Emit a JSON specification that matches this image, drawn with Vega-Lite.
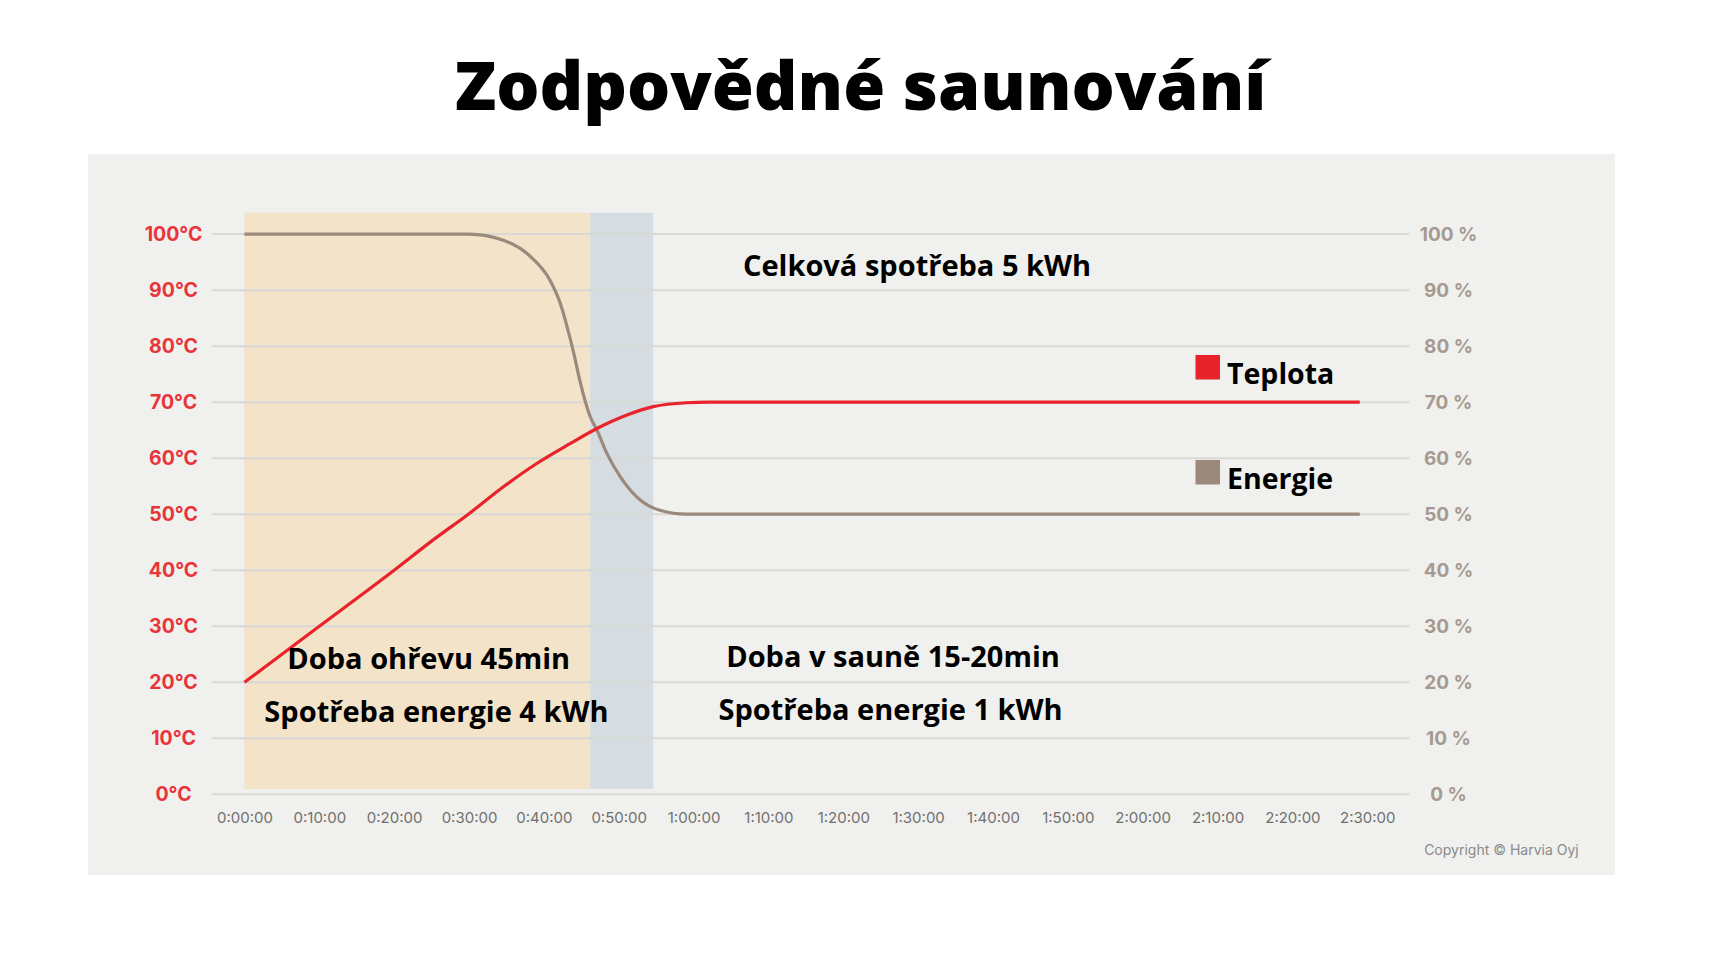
{
  "$schema": "https://vega.github.io/schema/vega-lite/v6.json",
  "autosize": "none",
  "width": 1527,
  "height": 721,
  "padding": {"left": 88, "top": 154, "right": 104, "bottom": 93},
  "background": "white",
  "title": {
    "text": "Zodpovědné saunování",
    "font": "Open Sans",
    "fontSize": 68,
    "fontWeight": 800,
    "color": "black",
    "anchor": "middle",
    "baseline": "alphabetic",
    "offset": 44,
    "dx": 9,
    "dy": 68
  },
  "config": {
    "view": {"fill": "#f0f0ee", "stroke": null},
    "axis": {"grid": false, "domain": false, "ticks": false, "tickSize": 0}
  },
  "resolve": {"scale": {"y": "independent"}},
  "layer": [
    {
      "data": {
        "values": [
          {"faze": "Ohřev", "od": 0, "do": 46.2},
          {"faze": "Saunování", "od": 46.2, "do": 54.6}
        ]
      },
      "mark": {"type": "rect"},
      "encoding": {
        "x": {"field": "od", "type": "quantitative", "title": null, "scale": {"domain": [-20.9, 183.1], "nice": false, "zero": false}},
        "x2": {"field": "do"},
        "y": {"datum": 103.8, "type": "quantitative", "scale": {"domain": [-14.4, 114.3], "nice": false, "zero": false}, "axis": null},
        "y2": {"datum": 0.95},
        "fill": {
          "field": "faze",
          "type": "nominal",
          "scale": {"domain": ["Ohřev", "Saunování"], "range": ["#f3e3c8", "#d5dce2"]},
          "legend": null
        }
      }
    },
    {
      "data": {
        "values": [
          {"uroven": 0}, {"uroven": 10}, {"uroven": 20}, {"uroven": 30}, {"uroven": 40},
          {"uroven": 50}, {"uroven": 60}, {"uroven": 70}, {"uroven": 80}, {"uroven": 90}, {"uroven": 100}
        ]
      },
      "mark": {"type": "rule", "color": "#d8d8d6", "strokeWidth": 2},
      "encoding": {
        "y": {
          "field": "uroven",
          "type": "quantitative",
          "title": null,
          "scale": {"domain": [-14.4, 114.3], "nice": false, "zero": false},
          "axis": {
            "orient": "right",
            "values": [0, 10, 20, 30, 40, 50, 60, 70, 80, 90, 100],
            "labelExpr": "datum.value + ' %'",
            "offset": -167,
            "labelPadding": 0,
            "labelAlign": "center",
            "labelBaseline": "middle",
            "labelFont": "Inter",
            "labelFontSize": 19,
            "labelFontWeight": 700,
            "labelColor": "#a69a90"
          }
        },
        "x": {"datum": -4.3, "type": "quantitative", "title": null},
        "x2": {"datum": 155.6}
      }
    },
    {
      "data": {
        "values": [
          {"serie": "Energie", "cas": 0, "hodnota": 100},
          {"serie": "Energie", "cas": 30, "hodnota": 100},
          {"serie": "Energie", "cas": 34.6, "hodnota": 98.9},
          {"serie": "Energie", "cas": 38.2, "hodnota": 96},
          {"serie": "Energie", "cas": 40.8, "hodnota": 91.8},
          {"serie": "Energie", "cas": 42.2, "hodnota": 87.6},
          {"serie": "Energie", "cas": 43.1, "hodnota": 83.5},
          {"serie": "Energie", "cas": 44, "hodnota": 78.7},
          {"serie": "Energie", "cas": 44.8, "hodnota": 73.9},
          {"serie": "Energie", "cas": 46.2, "hodnota": 67.4},
          {"serie": "Energie", "cas": 47.1, "hodnota": 65},
          {"serie": "Energie", "cas": 48.4, "hodnota": 60.9},
          {"serie": "Energie", "cas": 50.2, "hodnota": 56.7},
          {"serie": "Energie", "cas": 52.4, "hodnota": 53.1},
          {"serie": "Energie", "cas": 55.5, "hodnota": 50.7},
          {"serie": "Energie", "cas": 59.1, "hodnota": 50},
          {"serie": "Energie", "cas": 149, "hodnota": 50},
          {"serie": "Teplota", "cas": 0, "hodnota": 20},
          {"serie": "Teplota", "cas": 10, "hodnota": 30},
          {"serie": "Teplota", "cas": 20, "hodnota": 40},
          {"serie": "Teplota", "cas": 25, "hodnota": 45.2},
          {"serie": "Teplota", "cas": 30, "hodnota": 50.1},
          {"serie": "Teplota", "cas": 34.6, "hodnota": 54.9},
          {"serie": "Teplota", "cas": 39.1, "hodnota": 59.1},
          {"serie": "Teplota", "cas": 43.5, "hodnota": 62.6},
          {"serie": "Teplota", "cas": 47.1, "hodnota": 65.3},
          {"serie": "Teplota", "cas": 51.1, "hodnota": 67.7},
          {"serie": "Teplota", "cas": 54.6, "hodnota": 69.2},
          {"serie": "Teplota", "cas": 59.1, "hodnota": 69.9},
          {"serie": "Teplota", "cas": 62, "hodnota": 70},
          {"serie": "Teplota", "cas": 149, "hodnota": 70}
        ]
      },
      "mark": {"type": "line", "interpolate": "monotone", "strokeWidth": 3.2},
      "encoding": {
        "x": {
          "field": "cas",
          "type": "quantitative",
          "title": null,
          "scale": {"domain": [-20.9, 183.1], "nice": false, "zero": false},
          "axis": {
            "orient": "bottom",
            "values": [0, 10, 20, 30, 40, 50, 60, 70, 80, 90, 100, 110, 120, 130, 140, 150],
            "labelExpr": "floor(datum.value / 60) + ':' + (datum.value % 60 < 10 ? '0' : '') + (datum.value % 60) + ':00'",
            "offset": -58,
            "labelPadding": 0,
            "labelBaseline": "middle",
            "labelFont": "Inter",
            "labelFontSize": 15,
            "labelColor": "#707070",
            "labelFlush": false,
            "labelOverlap": false
          }
        },
        "y": {
          "field": "hodnota",
          "type": "quantitative",
          "title": null,
          "scale": {"domain": [-14.4, 114.3], "nice": false, "zero": false},
          "axis": {
            "orient": "left",
            "values": [0, 10, 20, 30, 40, 50, 60, 70, 80, 90, 100],
            "labelExpr": "datum.value + '°C'",
            "offset": -85,
            "labelPadding": 0,
            "labelAlign": "center",
            "labelBaseline": "middle",
            "labelFont": "Inter",
            "labelFontSize": 19.5,
            "labelFontWeight": 700,
            "labelColor": "#e8353b"
          }
        },
        "stroke": {
          "field": "serie",
          "type": "nominal",
          "scale": {"domain": ["Teplota", "Energie"], "range": ["#e8232b", "#9b897c"]},
          "legend": {
            "orient": "none",
            "legendX": 1105.5,
            "legendY": 199,
            "title": null,
            "direction": "vertical",
            "padding": 0,
            "symbolType": "square",
            "symbolSize": 530,
            "symbolStrokeColor": "#3b3b3b",
            "symbolStrokeWidth": 1.5,
            "labelFont": "Open Sans",
            "labelFontSize": 28.5,
            "labelFontWeight": "bold",
            "labelColor": "black",
            "labelOffset": 5,
            "rowPadding": 67,
            "encode": {
              "symbols": {
                "update": {
                  "fill": {"scale": "stroke", "field": "value"},
                  "stroke": {"value": "#3b3b3b"},
                  "strokeWidth": {"value": 1.5}
                }
              },
              "labels": {"update": {"dy": {"value": 8}}}
            }
          }
        }
      }
    },
    {
      "data": {
        "values": [
          {"popis": "Celková spotřeba 5 kWh", "cas": 66.6, "hodnota": 92.6},
          {"popis": "Doba ohřevu 45min", "cas": 5.73, "hodnota": 22.31},
          {"popis": "Spotřeba energie 4 kWh", "cas": 2.66, "hodnota": 12.96},
          {"popis": "Doba v sauně 15-20min", "cas": 64.36, "hodnota": 22.7},
          {"popis": "Spotřeba energie 1 kWh", "cas": 63.33, "hodnota": 13.3}
        ]
      },
      "mark": {"type": "text", "align": "left", "baseline": "alphabetic", "font": "Open Sans", "fontSize": 29, "fontWeight": "bold", "color": "black"},
      "encoding": {
        "x": {"field": "cas", "type": "quantitative", "title": null},
        "y": {"field": "hodnota", "type": "quantitative", "scale": {"domain": [-14.4, 114.3], "nice": false, "zero": false}, "axis": null},
        "text": {"field": "popis"}
      }
    },
    {
      "data": {"values": [{"popis": "Copyright © Harvia Oyj", "cas": 157.6, "hodnota": -10.83}]},
      "mark": {"type": "text", "align": "left", "baseline": "alphabetic", "font": "Inter", "fontSize": 14, "color": "#8a8a8a"},
      "encoding": {
        "x": {"field": "cas", "type": "quantitative", "title": null},
        "y": {"field": "hodnota", "type": "quantitative", "scale": {"domain": [-14.4, 114.3], "nice": false, "zero": false}, "axis": null},
        "text": {"field": "popis"}
      }
    }
  ]
}
